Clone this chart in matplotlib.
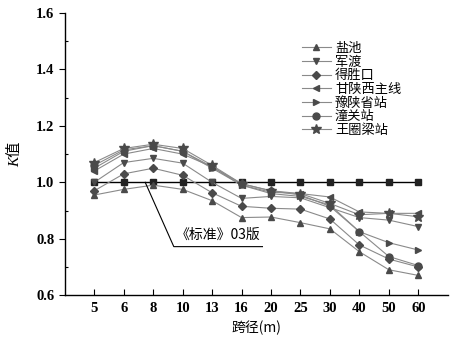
import matplotlib
matplotlib.use("Agg")
from matplotlib import pyplot as plt
import numpy as np

spans = ["5", "6", "8", "10", "13", "16", "20", "25", "30", "40", "50", "60"]

yanchi = [0.955, 0.975, 0.99, 0.975, 0.935, 0.875, 0.877, 0.857, 0.835, 0.754, 0.69, 0.67]
jundu = [1.0, 1.07, 1.085, 1.068, 1.0, 0.943, 0.95, 0.945, 0.91, 0.875, 0.866, 0.843]
deshengkou = [0.97, 1.03, 1.05, 1.025, 0.963, 0.915, 0.908, 0.905, 0.87, 0.778, 0.728, 0.70]
ganshan = [1.04, 1.10, 1.12, 1.10, 1.055, 0.99, 0.965, 0.96, 0.948, 0.895, 0.89, 0.89]
yushan = [1.05, 1.11, 1.13, 1.11, 1.05, 0.99, 0.96, 0.95, 0.92, 0.825, 0.786, 0.76]
tongguan = [1.06, 1.115, 1.13, 1.11, 1.055, 0.995, 0.97, 0.955, 0.915, 0.825, 0.737, 0.705]
wangquanliang = [1.07, 1.12, 1.135, 1.12, 1.06, 0.995, 0.97, 0.96, 0.925, 0.885, 0.89, 0.878]
standard = [1.0] * 12

series = [
    ("盐池", yanchi, "^"),
    ("军渡", jundu, "v"),
    ("得胜口", deshengkou, "D"),
    ("甘陕西主线", ganshan, "<"),
    ("豫陕省站", yushan, ">"),
    ("潼关站", tongguan, "o"),
    ("王圈梁站", wangquanliang, "*"),
]

cjk = ["Noto Sans CJK SC", "DejaVu Sans"]
serif = ["Liberation Serif", "Noto Sans CJK SC"]

fig = plt.figure(figsize=(4.5, 3.44), dpi=100)
ax = fig.add_axes([0.144, 0.142, 0.851, 0.820])

x = np.arange(len(spans))
ax.plot(x, standard, color="black", lw=1.0, marker="s", ms=5,
        mfc="#222222", mec="#222222", zorder=1)
for name, vals, m in series:
    ms = 7 if m == "*" else 5
    if m == "D":
        ms = 4.5
    ax.plot(x, vals, color="#8a8a8a", lw=0.8, marker=m, ms=ms,
            mfc="#4a4a4a", mec="#4a4a4a", label=name, zorder=2)

ax.set_xlim(-1, 12)
ax.set_ylim(0.6, 1.6)
ax.set_xticks(x)
ax.set_xticklabels(spans)
ax.set_yticks([0.6, 0.8, 1.0, 1.2, 1.4, 1.6])
ax.set_yticks(np.arange(0.7, 1.6, 0.2), minor=True)
ax.tick_params(axis="x", direction="in", length=4, width=0.8, pad=5)
ax.tick_params(axis="y", which="major", direction="out", length=4, width=0.8)
ax.tick_params(axis="y", which="minor", direction="in", length=2, width=0.8)
for lab in ax.get_xticklabels() + ax.get_yticklabels():
    lab.set_family(serif)
    lab.set_fontweight("bold")
    lab.set_fontsize(10.5)

ax.spines["top"].set_visible(False)
ax.spines["right"].set_visible(False)
ax.spines["left"].set_linewidth(1.0)
ax.spines["bottom"].set_linewidth(1.0)

ax.set_xlabel("跨径(m)", family=cjk, fontsize=10, labelpad=4)
ax.set_ylabel("K值", family=serif, fontsize=11, labelpad=10, style="italic")

# annotation for the standard line
ax.plot([1.73, 2.70, 5.71], [1.0, 0.772, 0.772], color="black", lw=0.8, zorder=3)
ax.text(4.2, 0.79, "《标准》03版", family=cjk, fontsize=10,
        ha="center", va="bottom")

leg = ax.legend(loc="upper left", bbox_to_anchor=(0.595, 0.93), frameon=False,
                prop={"family": cjk, "size": 9.5}, handlelength=2.2,
                handletextpad=0.3, labelspacing=0.05, borderpad=0.2)

fig.savefig("out.png", dpi=100)
